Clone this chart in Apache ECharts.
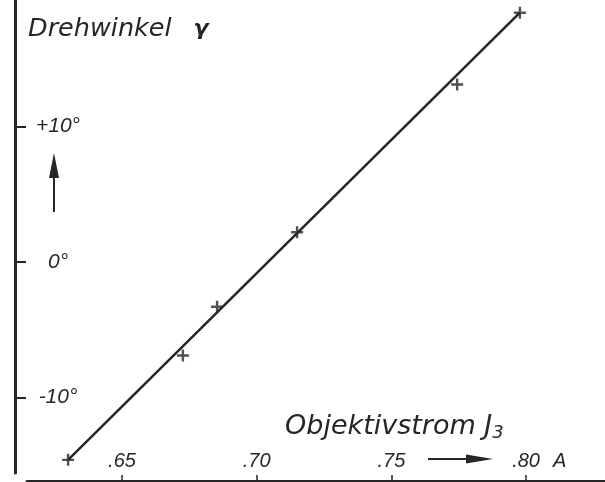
<!DOCTYPE html>
<html>
<head>
<meta charset="utf-8">
<script src="https://cdn.jsdelivr.net/npm/echarts@6/dist/echarts.min.js"></script>
<style>
html,body{margin:0;padding:0;background:#fff;}
#chart{width:605px;height:482px;}
</style>
</head>
<body>
<div id="chart"></div>
<script>
// Data
const currentA = [0.6300, 0.6726, 0.6853, 0.7150, 0.7744, 0.7977];
const angleDeg = [-14.6, -6.9, -3.3, 2.2, 13.1, 18.4];
const fitX = [0.6300, 0.7977];
const fitY = [-14.6, 18.4];
const xTicks = [0.65, 0.70, 0.75, 0.80];
const yTicks = [-10, 0, 10];
const yTitle = 'Drehwinkel';
const xTitle = 'Objektivstrom';
const xUnit = 'A';

const ink = '#262626';
const chart = echarts.init(document.getElementById('chart'));
const plus = 'path://M4,0H6V4H10V6H6V10H4V6H0V4H4Z';

chart.setOption({
  animation: false,
  backgroundColor: '#fff',
  grid: {left: 27, right: 0, top: 0, bottom: 9},
  xAxis: {
    type: 'value', min: 0.61474, max: 0.82929, offset: 8,
    splitLine: {show: false},
    axisLine: {show: true, onZero: false, lineStyle: {color: ink, width: 3}},
    axisTick: {show: true, inside: true, length: 6, customValues: xTicks, lineStyle: {color: ink, width: 1.5}},
    axisLabel: {
      inside: true, margin: 10, customValues: xTicks,
      fontFamily: 'Liberation Sans', fontStyle: 'italic', fontSize: 20, color: ink,
      formatter: v => '.' + Math.round(v * 100)
    }
  },
  yAxis: {
    type: 'value', min: -15.57, max: 19.34, offset: 12,
    splitLine: {show: false},
    axisLine: {show: true, onZero: false, lineStyle: {color: ink, width: 3}},
    axisTick: {show: true, inside: true, length: 11, customValues: yTicks, lineStyle: {color: ink, width: 2}},
    axisLabel: {
      inside: true, margin: 43, align: 'center', customValues: yTicks,
      fontFamily: 'Liberation Sans', fontStyle: 'italic', fontSize: 21, color: ink,
      formatter: v => (v > 0 ? '+' : '') + v + '°'
    }
  },
  series: [
    {
      type: 'line', data: fitX.map((x, i) => [x, fitY[i]]),
      showSymbol: false, lineStyle: {color: ink, width: 2.5}, z: 2
    },
    {
      type: 'scatter', data: currentA.map((x, i) => [x, angleDeg[i]]),
      symbol: plus, symbolSize: 12, itemStyle: {color: ink}, z: 3
    }
  ],
  graphic: [
    {type: 'text', x: 28, y: 29, style: {
      text: '{t|' + yTitle + '}{g|γ}', verticalAlign: 'middle',
      rich: {
        t: {fontFamily: 'DejaVu Sans', fontStyle: 'italic', fontSize: 25.5, fill: ink},
        g: {fontFamily: 'DejaVu Sans', fontStyle: 'italic', fontWeight: 'bold', fontSize: 22, fill: ink, padding: [0, 0, 0, 22]}
      }}},
    {type: 'text', x: 285, y: 427, style: {
      text: '{t|' + xTitle + ' J}{s|3}', verticalAlign: 'middle',
      rich: {
        t: {fontFamily: 'DejaVu Sans', fontStyle: 'italic', fontSize: 27, fill: ink},
        s: {fontFamily: 'DejaVu Sans', fontStyle: 'italic', fontSize: 18, fill: ink, padding: [12, 0, 0, 0]}
      }}},
    {type: 'text', x: 553, y: 461, style: {
      text: xUnit, verticalAlign: 'middle',
      fontFamily: 'Liberation Sans', fontStyle: 'italic', fontSize: 20, fill: ink}},
    {type: 'line', shape: {x1: 54, y1: 212, x2: 54, y2: 172}, style: {stroke: ink, lineWidth: 2}},
    {type: 'polygon', shape: {points: [[54, 153], [49, 178], [59, 178]]}, style: {fill: ink}},
    {type: 'line', shape: {x1: 428, y1: 459, x2: 470, y2: 459}, style: {stroke: ink, lineWidth: 2}},
    {type: 'polygon', shape: {points: [[493, 459], [466, 454.5], [466, 463.5]]}, style: {fill: ink}}
  ]
});
</script>
</body>
</html>
